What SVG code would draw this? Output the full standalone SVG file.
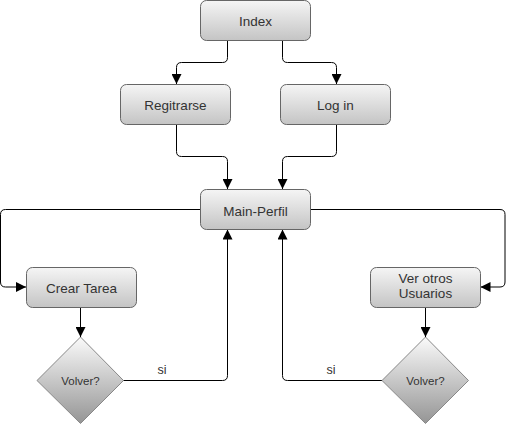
<svg xmlns="http://www.w3.org/2000/svg" width="506" height="424" viewBox="0 0 506 424">
<defs>
<linearGradient id="gBox" x1="0" y1="0" x2="0" y2="1">
<stop offset="0" stop-color="#f5f5f5"/>
<stop offset="1" stop-color="#c4c4c4"/>
</linearGradient>
<linearGradient id="gDia" x1="0" y1="0" x2="0" y2="1">
<stop offset="0" stop-color="#fafafa"/>
<stop offset="1" stop-color="#959595"/>
</linearGradient>
<marker id="arr" viewBox="0 0 10 10" refX="10" refY="5" markerWidth="10" markerHeight="10" markerUnits="userSpaceOnUse" orient="auto">
<path d="M0,0 L10,5 L0,10 Z" fill="#000"/>
</marker>
</defs>
<style>
.box{fill:url(#gBox);stroke:#666;stroke-width:1}
.dia{fill:url(#gDia);stroke:#888;stroke-width:1}
.t{font-family:"Liberation Sans",Arial,sans-serif;font-size:13.5px;fill:#333;text-anchor:middle}
.td{font-family:"Liberation Sans",Arial,sans-serif;font-size:11.5px;fill:#333;text-anchor:middle}
.ts{font-family:"Liberation Sans",Arial,sans-serif;font-size:12.5px;fill:#333;text-anchor:middle}
.c{fill:none;stroke:#000;stroke-width:1;marker-end:url(#arr)}
</style>
<g id="connectors">
<path class="c" d="M227.5,40.5 V57.5 Q227.5,62.5 222.5,62.5 H181.5 Q176.5,62.5 176.5,67.5 V84"/>
<path class="c" d="M282.5,40.5 V57.5 Q282.5,62.5 287.5,62.5 H331.5 Q336.5,62.5 336.5,67.5 V84"/>
<path class="c" d="M176.5,124.5 V151.5 Q176.5,156.5 181.5,156.5 H222.5 Q227.5,156.5 227.5,161.5 V189"/>
<path class="c" d="M336.5,124.5 V151.5 Q336.5,156.5 331.5,156.5 H287.5 Q282.5,156.5 282.5,161.5 V189"/>
<path class="c" d="M200.5,209.5 H5.5 Q0.5,209.5 0.5,214.5 V282 Q0.5,287 5.5,287 H26"/>
<path class="c" d="M310.5,209.5 H500 Q505,209.5 505,214.5 V282 Q505,287 500,287 H480.5"/>
<path class="c" d="M80.5,307.5 V337"/>
<path class="c" d="M425.5,307.5 V337"/>
<path class="c" d="M123,380.5 H222.5 Q227.5,380.5 227.5,375.5 V229.5"/>
<path class="c" d="M382,380.5 H287.5 Q282.5,380.5 282.5,375.5 V229.5"/>
<text class="ts" x="162" y="374">si</text>
<text class="ts" x="331" y="374">si</text>
</g>
<g id="index"><rect class="box" x="200.5" y="0.5" width="110" height="40" rx="6"/><text class="t" x="255.5" y="26">Index</text></g>
<g id="regitrarse"><rect class="box" x="120.5" y="84.5" width="110" height="40" rx="6"/><text class="t" x="175.5" y="110">Regitrarse</text></g>
<g id="login"><rect class="box" x="280.5" y="84.5" width="110" height="40" rx="6"/><text class="t" x="335.5" y="110">Log in</text></g>
<g id="main-perfil"><rect class="box" x="200.5" y="189.5" width="110" height="40" rx="6"/><text class="t" x="255.5" y="215.5">Main-Perfil</text></g>
<g id="crear-tarea"><rect class="box" x="26.5" y="267.5" width="110" height="40" rx="6"/><text class="t" x="81.5" y="293">Crear Tarea</text></g>
<g id="ver-otros"><rect class="box" x="370.5" y="267.5" width="110" height="40" rx="6"/><text class="t" x="425.5" y="283">Ver otros</text><text class="t" x="425.5" y="298">Usuarios</text></g>
<g id="volver1"><path class="dia" d="M80.5,337 L123.5,380.5 L80.5,423.5 L37,380.5 Z"/><text class="td" x="80.5" y="385">Volver?</text></g>
<g id="volver2"><path class="dia" d="M425.5,337 L468.5,380.5 L425.5,423.5 L382,380.5 Z"/><text class="td" x="425.5" y="385">Volver?</text></g>
</svg>
